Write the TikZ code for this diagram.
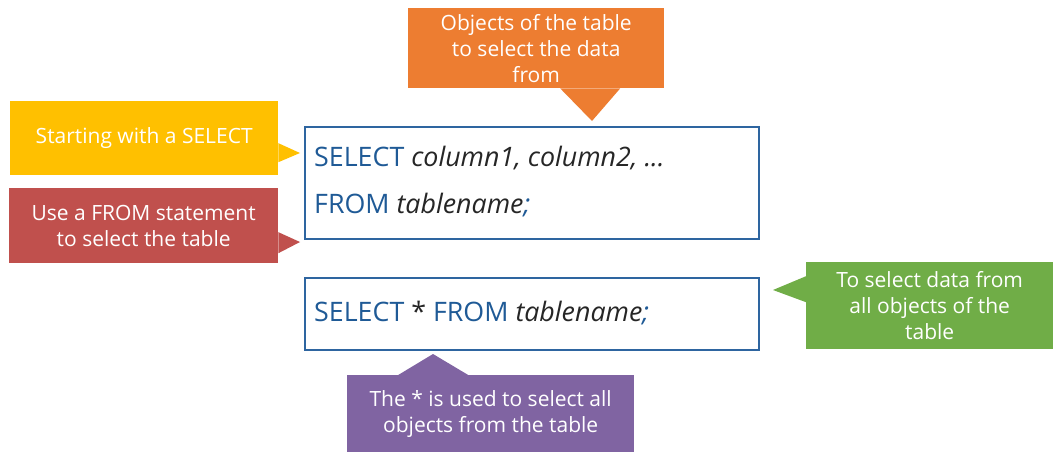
\documentclass[tikz,border=0pt]{standalone}
\usepackage{fontspec}
\setmainfont{Open Sans}
\usetikzlibrary{positioning}
\definecolor{sqlblue}{HTML}{1F5A96}
\definecolor{sqlframe}{HTML}{2E65A0}
\definecolor{argtext}{HTML}{262626}
\definecolor{orangec}{HTML}{ED7D31}
\definecolor{yellowc}{HTML}{FFC000}
\definecolor{redc}{HTML}{C0504D}
\definecolor{greenc}{HTML}{70AD47}
\definecolor{purplec}{HTML}{8064A2}
\tikzset{
  callout/.style={anchor=north west,inner sep=0pt,align=center,text=white,
    font=\fontsize{21}{26}\selectfont},
  sqlbox/.style={anchor=north west,draw=sqlframe,line width=1.5pt,inner sep=0pt},
  sqltext/.style={anchor=west,inner sep=0pt,text=sqlblue,font=\fontsize{26.8}{30}\selectfont},
}
\newcommand{\sqlarg}[1]{\textcolor{argtext}{\textit{#1}}}
\begin{document}
\begin{tikzpicture}[x=1pt,y=-1pt]
	\useasboundingbox (0,0) rectangle (1053,452);
	% boxes holding the queries
	\node[sqlbox,minimum width=454pt,minimum height=112pt] (q1) at (304,126) {};
	\node[sqlbox,minimum width=454pt,minimum height=72pt]  (q2) at (304,277) {};
	\node[sqltext] (sel)  at (314,158) {SELECT \sqlarg{column1, column2, ...}};
	\node[sqltext] (from) at (314,205) {FROM \sqlarg{tablename}\textit{;}};
	\node[sqltext] (star) at (314,313) {SELECT \textcolor{argtext}{*} FROM \sqlarg{tablename}\textit{;}};
	% callouts
	\node[callout,fill=orangec,minimum width=256pt,minimum height=80pt] (obj) at (408,8)
		{Objects of the table\\to select the data\\from};
	\node[callout,fill=yellowc,minimum width=268pt,minimum height=74pt] (start) at (10,101)
		{Starting with a SELECT};
	\node[callout,fill=redc,minimum width=269pt,minimum height=75pt] (use) at (9,188)
		{Use a FROM statement\\to select the table};
	\node[callout,fill=greenc,minimum width=247pt,minimum height=87pt] (all) at (806,262)
		{To select data from\\all objects of the\\table};
	\node[callout,fill=purplec,minimum width=287pt,minimum height=77pt] (ast) at (347,375)
		{The * is used to select all\\objects from the table};
	% pointer tips
	\coordinate (objtip)   at (592,121);
	\coordinate (starttip) at (300,153);
	\coordinate (usetip)   at (300,242);
	\coordinate (alltip)   at (773,290);
	\coordinate (asttip)   at (433,354);
	\fill[orangec] ([xshift=24pt]obj.south) -- (objtip) -- ([xshift=84pt]obj.south) -- cycle;
	\fill[yellowc] ([yshift=-5pt]start.east) -- (starttip) -- ([yshift=-24pt]start.east) -- cycle;
	\fill[redc] ([yshift=-6.5pt]use.east) -- (usetip) -- ([yshift=-27.5pt]use.east) -- cycle;
	\fill[greenc] ([yshift=29.5pt]all.west) -- (alltip) -- ([yshift=3.5pt]all.west) -- cycle;
	\fill[purplec] ([xshift=-92.5pt]ast.north) -- (asttip) -- ([xshift=-22.5pt]ast.north) -- cycle;
\end{tikzpicture}
\end{document}
